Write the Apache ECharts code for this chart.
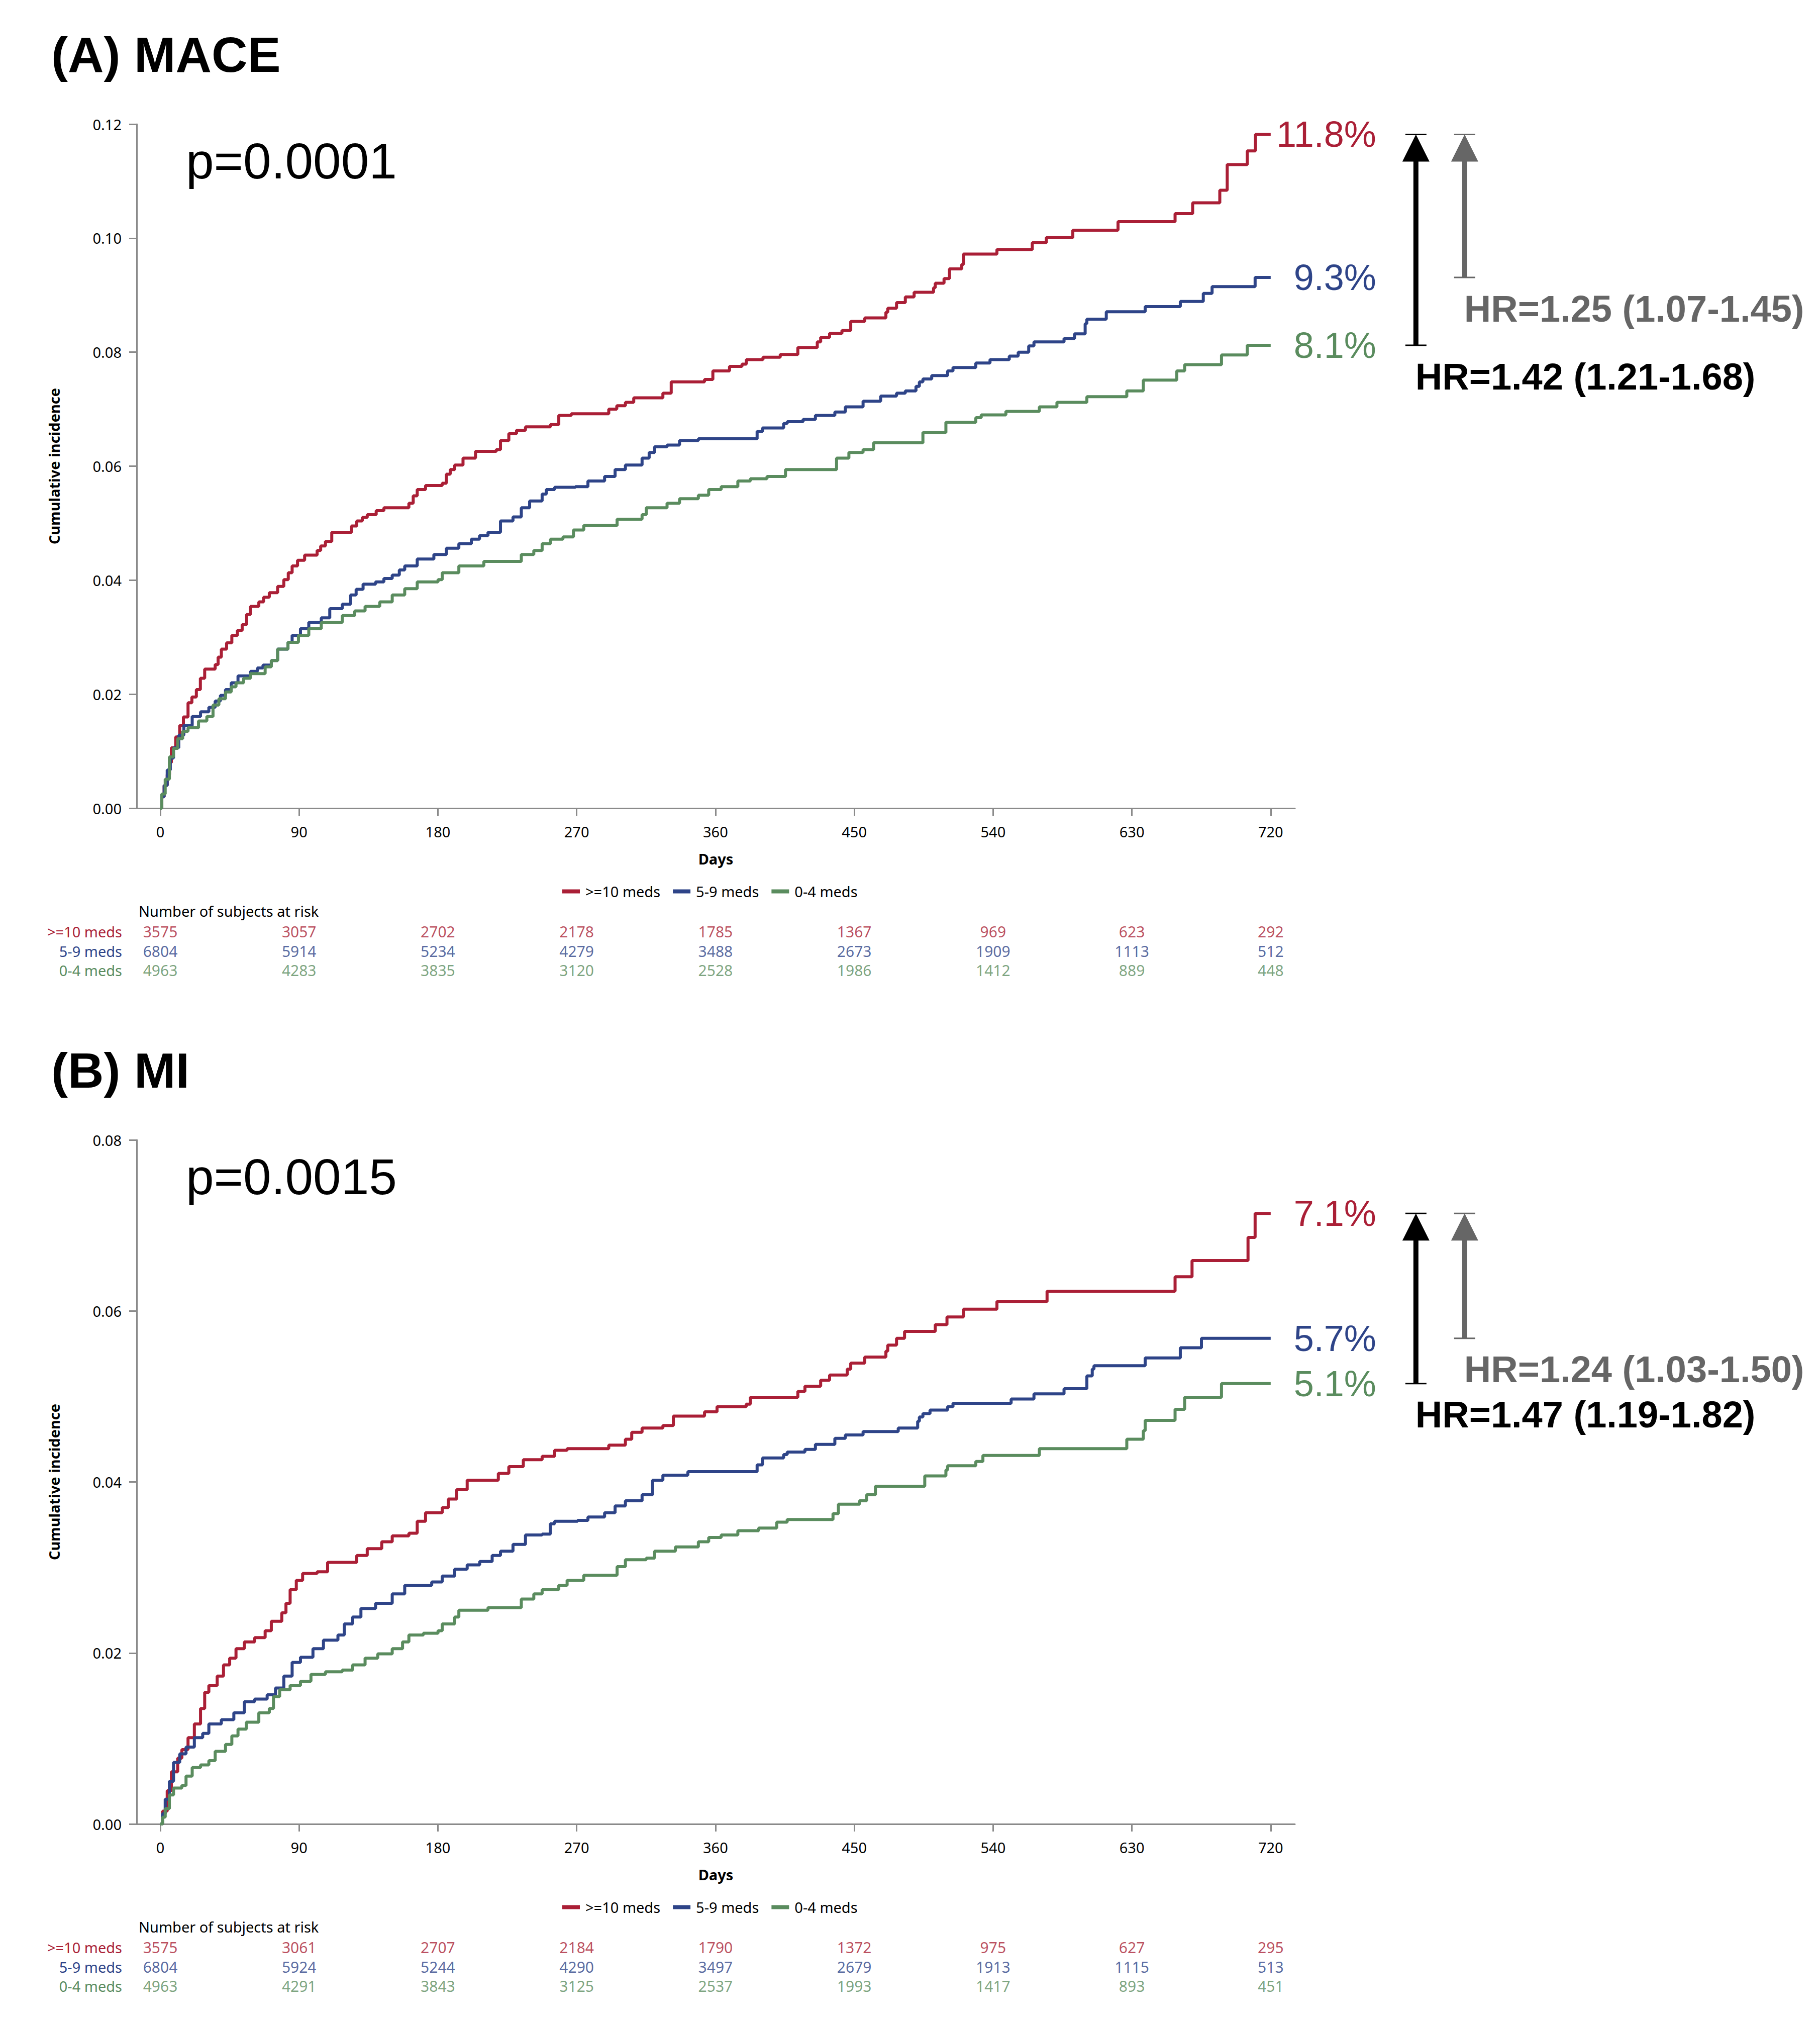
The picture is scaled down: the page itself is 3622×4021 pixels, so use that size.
<!DOCTYPE html>
<html><head><meta charset="utf-8">
<script src="https://cdn.jsdelivr.net/npm/echarts@6/dist/echarts.min.js"></script>
<style>html,body{margin:0;padding:0;background:#fff}#c{width:3622px;height:4021px}</style>
</head><body><div id="c"></div>
<script>
// ---------------- data ----------------
const groups = ['>=10 meds', '5-9 meds', '0-4 meds'];
const colors = ['#AA1F36', '#2E4488', '#5A8C5E'];
const dayTicks = [0, 90, 180, 270, 360, 450, 540, 630, 720];
const panelTitles = ['(A) MACE', '(B) MI'];
const pValues = ['p=0.0001', 'p=0.0015'];
const hrGray = ['HR=1.25 (1.07-1.45)', 'HR=1.24 (1.03-1.50)'];
const hrBlack = ['HR=1.42 (1.21-1.68)', 'HR=1.47 (1.19-1.82)'];
const yMax = [0.12, 0.08];

const maceHigh = [[0,0],[1,0.002],[2.5,0.004],[4.5,0.0059],[6,0.008],[7.2,0.0106],[10,0.0125],[12.6,0.0145],[15,0.016],[18,0.0185],[20.5,0.0195],[23.4,0.0208],[26,0.0228],[28.8,0.0244],[35.6,0.0252],[37.5,0.0265],[39.6,0.0279],[43,0.029],[46.4,0.0303],[50,0.0312],[53.1,0.0322],[56,0.034],[58.5,0.0354],[63.9,0.0362],[67,0.037],[70.7,0.0378],[76.1,0.0389],[80.1,0.0401],[83,0.0413],[85.5,0.0425],[89,0.0435],[93.6,0.0444],[101.7,0.0452],[104,0.046],[107.1,0.0468],[111.2,0.0484],[124,0.0495],[127.4,0.0504],[131,0.051],[134.2,0.0515],[140,0.0522],[145,0.0527],[161.2,0.0535],[164,0.0548],[166.6,0.0559],[172,0.0566],[182.8,0.057],[185.5,0.0586],[188,0.0594],[190.9,0.0602],[196.3,0.0614],[204.4,0.0626],[217.9,0.0629],[220.6,0.0645],[226,0.0657],[231,0.0663],[236.8,0.0669],[253,0.0673],[258.4,0.0689],[266.5,0.0692],[290.8,0.07],[296,0.0706],[301.6,0.0712],[307,0.072],[325.9,0.0728],[331.3,0.0748],[352.9,0.0752],[358.3,0.0767],[369.1,0.0775],[377.2,0.0779],[380,0.0787],[390.8,0.0791],[402,0.0796],[413.4,0.0808],[426,0.0818],[428.2,0.0826],[434,0.0833],[442,0.0838],[447.7,0.0854],[456.8,0.086],[470.5,0.087],[471.7,0.0877],[477.4,0.0887],[483.1,0.0897],[488.8,0.0905],[501.4,0.0913],[502.5,0.0921],[508.2,0.0929],[511.7,0.0946],[519.7,0.0954],[520.8,0.0972],[542.5,0.098],[565.4,0.0992],[574.5,0.1001],[591.7,0.1014],[621,0.1029],[658,0.1043],[669.4,0.1062],[687,0.1084],[691.8,0.1129],[704.8,0.1153],[710.1,0.1182],[720,0.1182]];
const maceMid = [[0,0],[1,0.002],[2.5,0.004],[4.5,0.0067],[6.5,0.0088],[8.6,0.0106],[12,0.0128],[15.3,0.0145],[20.7,0.0161],[26.1,0.0169],[31.5,0.0177],[35.6,0.0188],[39,0.0198],[42.3,0.0208],[46,0.022],[50.4,0.0232],[58.5,0.024],[63,0.0246],[66.6,0.0251],[72,0.0259],[76.1,0.0279],[82.8,0.0291],[85.5,0.0303],[90.9,0.0315],[96.3,0.0326],[104.4,0.0334],[109.9,0.035],[118,0.0358],[123.4,0.0374],[127,0.0384],[131.5,0.0393],[139.6,0.0397],[145,0.0403],[150.4,0.0409],[155,0.0418],[158.5,0.0425],[166.6,0.0437],[177.4,0.0445],[185.5,0.0456],[193.6,0.0464],[201.7,0.0472],[207,0.0478],[212.5,0.0484],[220.6,0.0504],[228.7,0.0511],[234.1,0.0527],[239.5,0.0539],[247.6,0.0551],[250.3,0.0559],[255.7,0.0563],[269.2,0.0564],[277.3,0.0574],[288.1,0.0582],[294.9,0.0594],[301.6,0.0602],[312.4,0.0614],[317,0.0624],[320.5,0.0634],[328.6,0.0637],[336.7,0.0645],[348.9,0.0648],[387,0.0661],[390.5,0.0667],[404.2,0.0675],[406.5,0.0678],[416.8,0.0682],[424.8,0.0689],[437.4,0.0695],[444.2,0.0704],[455.7,0.0714],[467.1,0.0723],[477.4,0.0728],[483.1,0.0732],[490,0.074],[492.2,0.0748],[494.5,0.0753],[500.2,0.0759],[510.5,0.0767],[514,0.0773],[528.8,0.0781],[538,0.0787],[550.5,0.0793],[556.3,0.08],[563.1,0.0811],[566.5,0.0818],[586,0.0824],[592.8,0.0832],[599.7,0.085],[600.8,0.0858],[613.4,0.0871],[638.6,0.088],[661.4,0.0889],[676.3,0.0903],[682,0.0915],[709.9,0.0931],[720,0.0931]];
const maceLow = [[0,0],[1,0.0025],[3.2,0.0051],[5.9,0.009],[8.5,0.0105],[11.3,0.0122],[14.5,0.0135],[18,0.0141],[24.8,0.0153],[30.2,0.0161],[34.2,0.0181],[38,0.0192],[42.3,0.0204],[46,0.0213],[49.1,0.022],[54,0.0228],[58.5,0.0236],[68,0.0248],[72,0.0259],[76.1,0.0279],[82.8,0.0291],[89.6,0.0303],[96.3,0.0315],[104.4,0.0326],[118,0.0338],[126.1,0.0346],[132.8,0.0354],[142.3,0.0362],[150.4,0.0374],[158.5,0.0385],[166.6,0.0397],[180.1,0.0401],[182.8,0.0413],[193.6,0.0425],[209.8,0.0433],[234.1,0.0445],[242.2,0.0452],[247.6,0.0464],[253,0.0472],[261.1,0.0476],[267.9,0.0488],[274.6,0.0496],[296.2,0.0507],[312.4,0.0515],[315.1,0.0527],[328.6,0.0535],[336.7,0.0543],[348.9,0.0549],[355.6,0.0559],[363.7,0.0564],[374.5,0.0574],[382.6,0.0578],[393.4,0.0582],[405.4,0.0594],[438.5,0.0614],[446.5,0.0624],[455.7,0.0629],[462.5,0.0641],[494.5,0.0659],[509.4,0.0677],[528.8,0.0685],[532.3,0.069],[548.3,0.0696],[570,0.0704],[581.4,0.0712],[600.8,0.0722],[626.7,0.0732],[637.4,0.0751],[659.1,0.0767],[664.2,0.0778],[688.1,0.0795],[704.8,0.0812],[720,0.0812]];

const miHigh = [[0,0],[1.5,0.0015],[4.5,0.0039],[7.2,0.0061],[11.3,0.0077],[14,0.0087],[18,0.0101],[22.1,0.0117],[26.1,0.0135],[28.8,0.0154],[31.5,0.0162],[36.9,0.0173],[41,0.0186],[45,0.0194],[49.1,0.0205],[54.5,0.0213],[61.2,0.0218],[68,0.0226],[72,0.0237],[78.8,0.0247],[81.5,0.0258],[84.2,0.0274],[88.2,0.0285],[92.3,0.0293],[101.7,0.0295],[108.5,0.0306],[127.4,0.0314],[134.2,0.0322],[143.6,0.033],[150.4,0.0337],[161.2,0.034],[166.6,0.0354],[172,0.0364],[182.8,0.037],[186.8,0.038],[192.2,0.0391],[199,0.0402],[219.2,0.041],[226,0.0418],[235.4,0.0426],[247.6,0.043],[255.7,0.0437],[263.8,0.0439],[290.8,0.0443],[301.6,0.045],[305.7,0.0458],[312.4,0.0463],[325.9,0.0466],[332.7,0.0477],[352.9,0.0482],[361,0.0488],[379.9,0.0491],[382.6,0.0499],[413.4,0.0506],[418,0.0512],[428.2,0.0519],[434,0.0525],[445.4,0.0532],[447.7,0.0539],[456.8,0.0546],[470.5,0.0553],[471.7,0.056],[477.4,0.0568],[482.6,0.0576],[502.5,0.0584],[510.1,0.0593],[520.8,0.0602],[542.5,0.0611],[575,0.0623],[658,0.064],[669,0.0659],[705.3,0.0686],[709.9,0.0714],[720,0.0714]];
const miMid = [[0,0],[1.5,0.0012],[3.2,0.0029],[5.9,0.005],[8.6,0.0072],[12.6,0.0082],[16.7,0.009],[22.1,0.0101],[27.5,0.0106],[31.5,0.0117],[39.6,0.0122],[47.7,0.013],[54.5,0.0143],[61.2,0.0146],[69.3,0.0151],[74.7,0.0159],[80.1,0.0173],[85.5,0.0189],[90.9,0.0195],[99,0.0205],[105.8,0.0215],[115.2,0.0221],[119.3,0.0234],[124.7,0.0242],[130.1,0.0252],[139.6,0.0258],[150.4,0.0269],[158.5,0.0279],[176,0.0283],[182.8,0.029],[190.9,0.0298],[199,0.0303],[207.1,0.0307],[215.2,0.0314],[220.6,0.0319],[228.7,0.0327],[236.8,0.0338],[247.6,0.0339],[252.9,0.0351],[255.7,0.0354],[270.6,0.0355],[277.3,0.0359],[288.1,0.0364],[294.9,0.0372],[301.6,0.0378],[312.4,0.0385],[319.2,0.0402],[325.9,0.0408],[342.1,0.0412],[387,0.042],[390.5,0.0428],[404.2,0.0432],[406.5,0.0435],[418,0.0438],[424.8,0.0444],[437.4,0.0451],[444.2,0.0455],[455.7,0.0459],[478.5,0.0463],[491.1,0.0471],[492.2,0.0476],[494.5,0.048],[499.1,0.0484],[510.5,0.0488],[514,0.0492],[551.7,0.0497],[566.5,0.0503],[586,0.0509],[600.8,0.0524],[604.3,0.0532],[605.4,0.0536],[638.6,0.0545],[661.4,0.0557],[675.1,0.0568],[720,0.0568]];
const miLow = [[0,0],[1.5,0.0008],[3.2,0.0018],[5.9,0.0034],[8.6,0.0042],[14,0.0045],[16.7,0.0056],[20.7,0.0066],[26.1,0.0069],[31.5,0.0074],[35.6,0.0085],[42.3,0.0093],[46.4,0.0103],[50.4,0.0111],[55.8,0.0119],[63.9,0.013],[70.7,0.0135],[73.4,0.0149],[77.4,0.0157],[84.2,0.0162],[90.9,0.0167],[97.7,0.0175],[107.1,0.0178],[118,0.018],[124.7,0.0186],[132.8,0.0194],[141,0.0199],[150.4,0.0205],[157.1,0.0213],[161.2,0.0221],[170.6,0.0223],[180.1,0.0226],[182.8,0.0234],[190.9,0.0242],[193.6,0.025],[212.5,0.0253],[234.1,0.0263],[242.2,0.0269],[247.6,0.0274],[258.4,0.0279],[263.8,0.0285],[274.6,0.0291],[296.2,0.0301],[301.6,0.0309],[315.1,0.0311],[320.5,0.0319],[334,0.0324],[348.9,0.033],[355.6,0.0335],[363.7,0.0338],[374.5,0.0343],[388,0.0346],[399.7,0.0353],[406.5,0.0356],[436.2,0.0363],[439.7,0.0374],[453.4,0.0378],[458,0.0385],[463.7,0.0395],[495.7,0.0407],[509.4,0.0414],[510.5,0.0419],[528.8,0.0424],[533.4,0.0431],[570,0.0439],[626.7,0.045],[637.4,0.046],[638.6,0.0472],[658,0.0485],[664.2,0.0499],[688.1,0.0515],[720,0.0515]];

const maceRiskHigh = [3575, 3057, 2702, 2178, 1785, 1367, 969, 623, 292];
const maceRiskMid  = [6804, 5914, 5234, 4279, 3488, 2673, 1909, 1113, 512];
const maceRiskLow  = [4963, 4283, 3835, 3120, 2528, 1986, 1412, 889, 448];
const miRiskHigh = [3575, 3061, 2707, 2184, 1790, 1372, 975, 627, 295];
const miRiskMid  = [6804, 5924, 5244, 4290, 3497, 2679, 1913, 1115, 513];
const miRiskLow  = [4963, 4291, 3843, 3125, 2537, 1993, 1417, 893, 451];

// ---------------- layout / style ----------------
const curves = [[maceHigh, maceMid, maceLow], [miHigh, miMid, miLow]];
const risks = [[maceRiskHigh, maceRiskMid, maceRiskLow], [miRiskHigh, miRiskMid, miRiskLow]];
const OFF = 2021;
const LEFT = 272, WIDTH = 2305;
const XMIN = -15.3, XMAX = 735.7;
const AX = '#8a8a8a';
const SANS = '"Noto Sans", sans-serif';
const ARIAL = '"Liberation Sans", Arial, sans-serif';

const chart = echarts.init(document.getElementById('c'), null, {renderer: 'svg', width: 3622, height: 4021});

const grid = [], xAxis = [], yAxis = [], series = [], legend = [];
for (let p = 0; p < 2; p++) {
  const o = p * OFF;
  grid.push({left: LEFT, top: 247 + o, width: WIDTH, height: 1361, outerBoundsMode: 'none', containLabel: false});
  grid.push({left: LEFT, top: 1834 + o, width: WIDTH, height: 116, outerBoundsMode: 'none', containLabel: false});
  const gPlot = p * 2, gRisk = p * 2 + 1;
  xAxis.push({
    type: 'value', gridIndex: gPlot, min: XMIN, max: XMAX,
    axisLine: {show: true, onZero: false, lineStyle: {color: AX, width: 3}},
    axisTick: {show: true, customValues: dayTicks, length: 15, lineStyle: {color: AX, width: 3}},
    axisLabel: {show: true, customValues: dayTicks, margin: 32, fontSize: 29, color: '#000', fontFamily: SANS},
    splitLine: {show: false},
    name: 'Days', nameLocation: 'middle', nameGap: 86,
    nameTextStyle: {fontSize: 29, fontWeight: 'bold', color: '#000', fontFamily: SANS}
  });
  xAxis.push({type: 'value', gridIndex: gRisk, min: XMIN, max: XMAX, show: false});
  yAxis.push({
    type: 'value', gridIndex: gPlot, min: 0, max: yMax[p], interval: 0.02,
    axisLine: {show: true, onZero: false, lineStyle: {color: AX, width: 3}},
    axisTick: {show: true, length: 15, lineStyle: {color: AX, width: 3}},
    axisLabel: {formatter: v => v.toFixed(2), margin: 30, fontSize: 29, color: '#000', fontFamily: SANS},
    splitLine: {show: false},
    name: 'Cumulative incidence', nameLocation: 'middle', nameGap: 150, nameRotate: 90,
    nameTextStyle: {fontSize: 29, fontWeight: 'bold', color: '#000', fontFamily: SANS}
  });
  yAxis.push({
    type: 'category', gridIndex: gRisk, data: groups, inverse: true,
    axisLine: {show: false}, axisTick: {show: false}, splitLine: {show: false},
    axisLabel: {margin: 29, fontSize: 29, fontFamily: SANS, color: (v, i) => colors[i]}
  });
  for (let k = 0; k < 3; k++) {
    series.push({
      type: 'line', name: groups[k], xAxisIndex: gPlot, yAxisIndex: gPlot,
      data: curves[p][k], step: 'end', showSymbol: false, symbol: 'none',
      lineStyle: {color: colors[k], width: 6}, itemStyle: {color: colors[k]},
      animation: false, z: 3
    });
  }
  for (let k = 0; k < 3; k++) {
    series.push({
      type: 'scatter', name: 'risk-' + p + '-' + k, xAxisIndex: gRisk, yAxisIndex: gRisk,
      data: dayTicks.map((d, i) => [d, groups[k], risks[p][k][i]]),
      symbolSize: 1, itemStyle: {color: 'rgba(0,0,0,0)'},
      label: {show: true, position: 'inside', formatter: q => String(q.value[2]),
              color: colors[k], fontSize: 30, fontFamily: SANS},
      animation: false, silent: true
    });
  }
  legend.push({
    data: groups, left: 1114, top: 1754 + o, orient: 'horizontal',
    itemWidth: 35, itemHeight: 8, itemGap: 25, icon: 'rect', selectedMode: false,
    textStyle: {fontSize: 29, color: '#000', fontFamily: SANS, padding: [0, 0, 0, 6]}
  });
}

chart.setOption({backgroundColor: '#fff', animation: false, grid, xAxis, yAxis, series, legend});

// ---------- annotations positioned from the axes ----------
function txt(x, y, text, font, fill, align) {
  return {type: 'text', x, y, z: 10, style: {text, font, fill, align: align || 'left', verticalAlign: 'middle',
          textAlign: align || 'left', textVerticalAlign: 'middle'}};
}
function arrow(ax, top, bottom, col, shaftW) {
  return [
    {type: 'rect', z: 10, shape: {x: ax - shaftW / 2, y: top + 50, width: shaftW, height: bottom - top - 50}, style: {fill: col}},
    {type: 'polygon', z: 10, shape: {points: [[ax, top], [ax - 27, top + 54], [ax + 27, top + 54]]}, style: {fill: col}},
    {type: 'line', z: 10, shape: {x1: ax - 21, y1: top, x2: ax + 21, y2: top}, style: {stroke: col, lineWidth: 3}},
    {type: 'line', z: 10, shape: {x1: ax - 21, y1: bottom, x2: ax + 21, y2: bottom}, style: {stroke: col, lineWidth: 3}}
  ];
}
const graphic = [];
for (let p = 0; p < 2; p++) {
  const o = p * OFF, gi = p * 2;
  const ends = curves[p].map(c => c[c.length - 1]);
  const pts = ends.map(e => chart.convertToPixel({gridIndex: gi}, e));
  const x720 = pts[0][0];
  graphic.push(txt(102, 108 + o, panelTitles[p], 'bold 99px ' + ARIAL, '#000'));
  graphic.push(txt(370, 320 + o, pValues[p], '100px ' + ARIAL, '#000'));
  graphic.push(txt(276, 1812 + o, 'Number of subjects at risk', '29px ' + SANS, '#000'));
  for (let k = 0; k < 3; k++) {
    graphic.push(txt(x720 + 210, pts[k][1], (ends[k][1] * 100).toFixed(1) + '%', '72px ' + ARIAL, colors[k], 'right'));
  }
  const blackX = x720 + 289, grayX = x720 + 386;
  graphic.push(...arrow(blackX, pts[0][1], pts[2][1], '#000', 10));
  graphic.push(...arrow(grayX, pts[0][1], pts[1][1], '#666', 10));
  graphic.push(txt(grayX - 1, pts[1][1] + 62, hrGray[p], 'bold 74px ' + ARIAL, '#666'));
  graphic.push(txt(blackX - 1, pts[2][1] + 62, hrBlack[p], 'bold 74px ' + ARIAL, '#000'));
}
chart.setOption({graphic});
</script>
</body></html>
